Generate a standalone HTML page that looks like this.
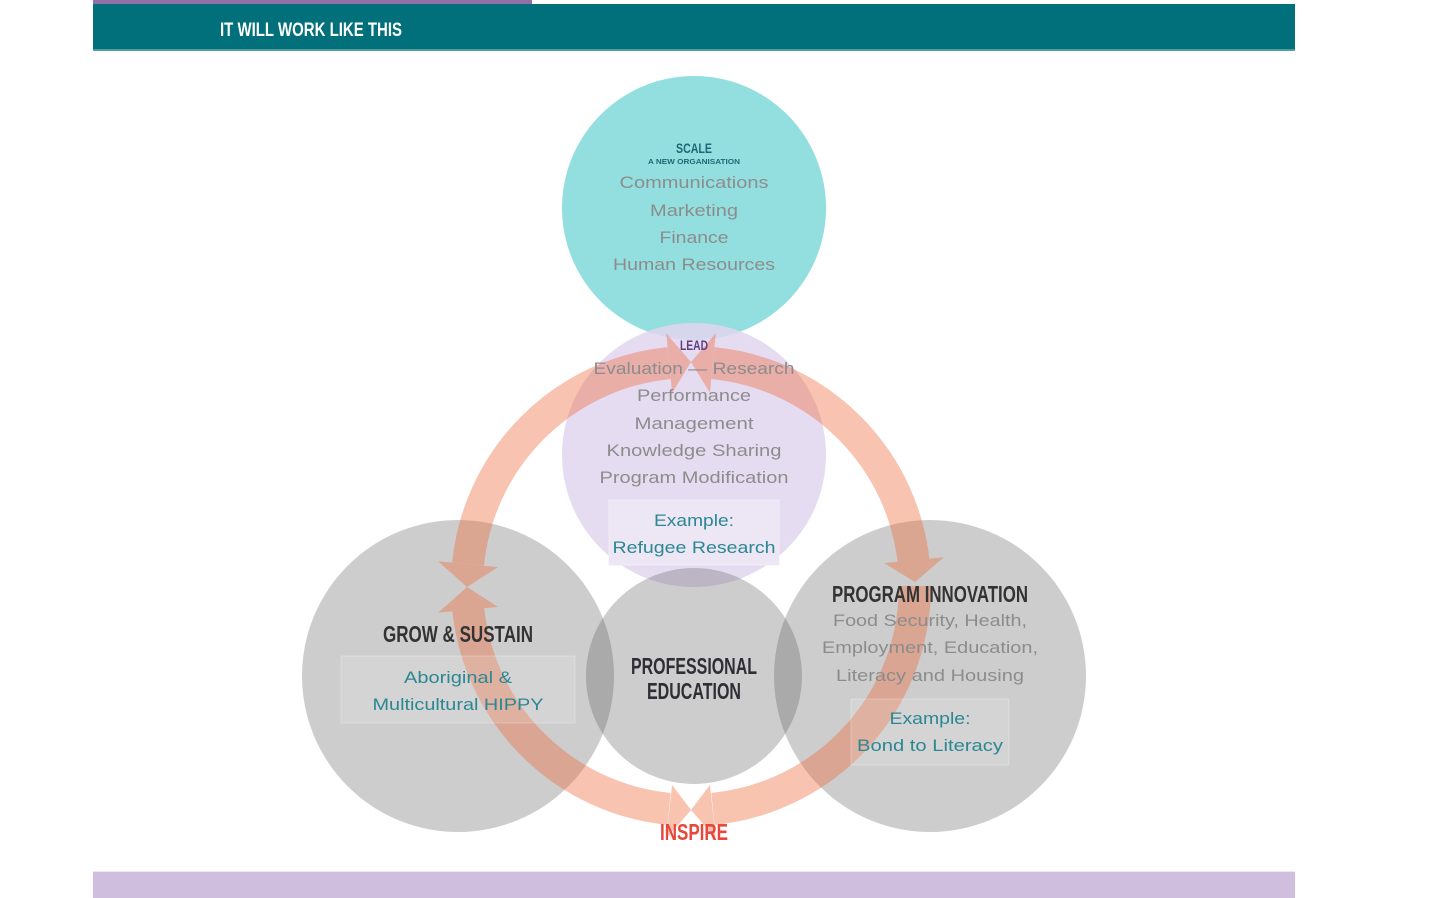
<!DOCTYPE html>
<html>
<head>
<meta charset="utf-8">
<style>
  html, body { margin:0; padding:0; background:#ffffff; }
  body { width:1443px; height:898px; overflow:hidden; position:relative; }
  svg { position:absolute; left:0; top:0; }
  .h { font-family:"Liberation Sans Narrow","Liberation Sans",sans-serif; font-weight:bold; }
  .b { font-family:"Liberation Sans",sans-serif; }
</style>
</head>
<body>
<svg width="1443" height="898" viewBox="0 0 1443 898" xmlns="http://www.w3.org/2000/svg">
  <!-- header -->
  <rect x="93" y="0" width="439" height="4" fill="#8f72a3"/>
  <rect x="93" y="4" width="1202" height="47" fill="#02707b"/>
  <rect x="93" y="49" width="1202" height="2" fill="#4e9ea4"/>
  <text x="220" y="36" class="h" font-size="19" fill="#ffffff" textLength="182" lengthAdjust="spacingAndGlyphs">IT WILL WORK LIKE THIS</text>

  <!-- bottom bar -->
  <rect x="93" y="872" width="1202" height="26" fill="#cfbedd"/>
  <rect x="93" y="871" width="1202" height="1" fill="#efe7f3"/>

  <!-- top teal circle -->
  <circle cx="694" cy="208" r="132" fill="#93dfe0"/>
  <!-- purple circle -->
  <circle cx="694" cy="455" r="132" fill="#e2d6ee" fill-opacity="0.85"/>
  <!-- grey circles -->
  <g fill="#5d5d5d" fill-opacity="0.31">
    <circle cx="458" cy="676" r="156"/>
    <circle cx="930" cy="676" r="156"/>
    <circle cx="694" cy="676" r="108"/>
  </g>

  <!-- arrow ring -->
  <g opacity="0.4">
    <g fill="none" stroke="#ee6a3a" stroke-width="32" stroke-linecap="butt">
      <path d="M 468.1 564.1 A 224 224 0 0 1 669.1 363.1"/>
      <path d="M 712.9 363.1 A 224 224 0 0 1 913.9 564.1"/>
      <path d="M 915 586 A 224 224 0 0 1 712.9 808.9"/>
      <path d="M 669.1 808.9 A 224 224 0 0 1 468.1 607.9"/>
    </g>
    <g fill="#ee6a3a">
      <!-- top -->
      <polygon points="672.1,392.9 666.2,333.2 691,362"/>
      <polygon points="709.9,392.9 715.8,333.2 691,362"/>
      <!-- left -->
      <polygon points="497.9,567.1 438.2,561.2 467,587"/>
      <polygon points="497.9,606.9 438.2,612.8 467,587"/>
      <!-- bottom -->
      <polygon points="672.1,785 666.2,838.8 691,810"/>
      <polygon points="709.9,785 715.8,838.8 691,810"/>
      <!-- right -->
      <polygon points="884.1,563.1 943.8,557.2 915,582"/>
    </g>
  </g>

  <!-- top circle text -->
  <text x="694" y="153" text-anchor="middle" class="h" font-size="14" fill="#1d6874" textLength="36" lengthAdjust="spacingAndGlyphs">SCALE</text>
  <text x="694" y="164" text-anchor="middle" class="h" font-size="7" fill="#1d6874" textLength="92" lengthAdjust="spacingAndGlyphs">A NEW ORGANISATION</text>
  <g class="b" font-size="17" fill="#8c8c8c" text-anchor="middle">
    <text x="694" y="188" textLength="149" lengthAdjust="spacingAndGlyphs">Communications</text>
    <text x="694" y="216" textLength="88" lengthAdjust="spacingAndGlyphs">Marketing</text>
    <text x="694" y="243" textLength="69" lengthAdjust="spacingAndGlyphs">Finance</text>
    <text x="694" y="270" textLength="162" lengthAdjust="spacingAndGlyphs">Human Resources</text>
  </g>

  <!-- purple circle text -->
  <text x="694" y="350" text-anchor="middle" class="h" font-size="14" fill="#5b3f82" textLength="28" lengthAdjust="spacingAndGlyphs">LEAD</text>
  <g class="b" font-size="17" fill="#8c8c8c" text-anchor="middle">
    <text x="694" y="374" textLength="201" lengthAdjust="spacingAndGlyphs">Evaluation — Research</text>
    <text x="694" y="401" textLength="114" lengthAdjust="spacingAndGlyphs">Performance</text>
    <text x="694" y="429" textLength="119" lengthAdjust="spacingAndGlyphs">Management</text>
    <text x="694" y="456" textLength="175" lengthAdjust="spacingAndGlyphs">Knowledge Sharing</text>
    <text x="694" y="483" textLength="189" lengthAdjust="spacingAndGlyphs">Program Modification</text>
  </g>
  <rect x="609" y="500" width="170" height="65" fill="#ede6f4" stroke="#f1ecf6" stroke-width="1"/>
  <g class="b" font-size="17" fill="#2b8793" text-anchor="middle">
    <text x="694" y="526" textLength="80" lengthAdjust="spacingAndGlyphs">Example:</text>
    <text x="694" y="553" textLength="163" lengthAdjust="spacingAndGlyphs">Refugee Research</text>
  </g>

  <!-- left circle -->
  <text x="458" y="642" text-anchor="middle" class="h" font-size="23" fill="#333333" textLength="150" lengthAdjust="spacingAndGlyphs">GROW &amp; SUSTAIN</text>
  <rect x="341" y="656" width="234" height="67" fill="#ffffff" fill-opacity="0.14" stroke="#ffffff" stroke-opacity="0.25" stroke-width="1"/>
  <g class="b" font-size="17" fill="#2b8793" text-anchor="middle">
    <text x="458" y="683" textLength="108" lengthAdjust="spacingAndGlyphs">Aboriginal &amp;</text>
    <text x="458" y="710" textLength="171" lengthAdjust="spacingAndGlyphs">Multicultural HIPPY</text>
  </g>

  <!-- middle circle -->
  <g class="h" font-size="23" fill="#2e2e35" text-anchor="middle">
    <text x="694" y="674" textLength="126" lengthAdjust="spacingAndGlyphs">PROFESSIONAL</text>
    <text x="694" y="699" textLength="94" lengthAdjust="spacingAndGlyphs">EDUCATION</text>
  </g>

  <!-- right circle -->
  <text x="930" y="602" text-anchor="middle" class="h" font-size="23" fill="#333333" textLength="196" lengthAdjust="spacingAndGlyphs">PROGRAM INNOVATION</text>
  <g class="b" font-size="17" fill="#8c8c8c" text-anchor="middle">
    <text x="930" y="626" textLength="194" lengthAdjust="spacingAndGlyphs">Food Security, Health,</text>
    <text x="930" y="653" textLength="216" lengthAdjust="spacingAndGlyphs">Employment, Education,</text>
    <text x="930" y="681" textLength="188" lengthAdjust="spacingAndGlyphs">Literacy and Housing</text>
  </g>
  <rect x="851" y="699" width="158" height="66" fill="#ffffff" fill-opacity="0.14" stroke="#ffffff" stroke-opacity="0.25" stroke-width="1"/>
  <g class="b" font-size="17" fill="#2b8793" text-anchor="middle">
    <text x="930" y="724" textLength="81" lengthAdjust="spacingAndGlyphs">Example:</text>
    <text x="930" y="751" textLength="146" lengthAdjust="spacingAndGlyphs">Bond to Literacy</text>
  </g>

  <!-- INSPIRE -->
  <text x="694" y="840" text-anchor="middle" class="h" font-size="23" fill="#e8473a" textLength="68" lengthAdjust="spacingAndGlyphs">INSPIRE</text>
</svg>
</body>
</html>
